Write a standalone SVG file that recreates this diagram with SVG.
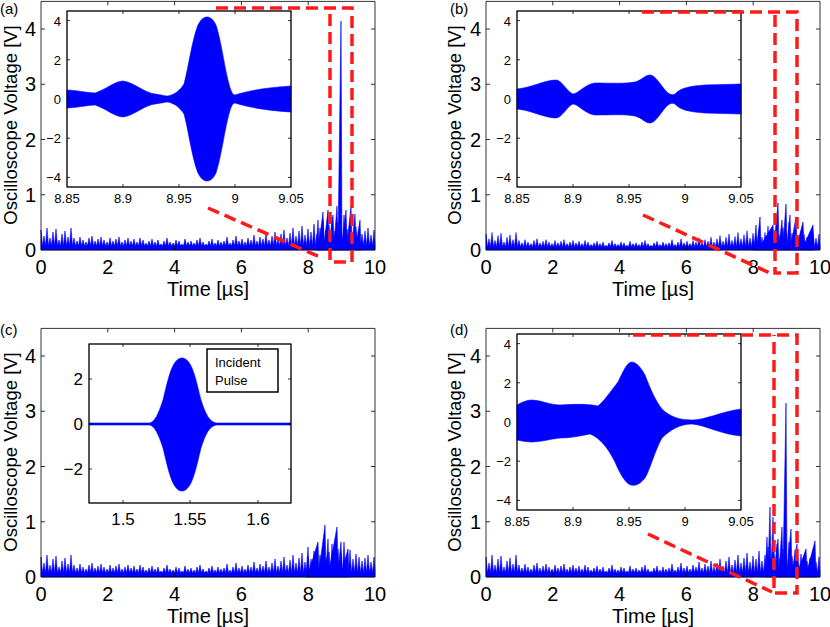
<svg xmlns="http://www.w3.org/2000/svg" xmlns:xlink="http://www.w3.org/1999/xlink" width="830" height="627" viewBox="0 0 830 627">
<style>
text{font-family:"Liberation Sans",Arial,sans-serif;fill:#000}
.tl{font-size:20px}
.yl{font-size:18.5px}
.it{font-size:13px}
.ic{font-size:17px}
.pl{font-size:15px}
.ax{fill:none;stroke:#000;stroke-width:0.8}
.sig{fill:#0000ff;stroke:#0000ff;stroke-width:0.6;stroke-linejoin:round}
.inset{fill:#fff;stroke:#000;stroke-width:0.9}
.red{fill:none;stroke:#ff1a1a;stroke-width:3.5;stroke-dasharray:12 6}
</style>
<defs>
<path id="noise" class="sig" d="M0,0 L0,-20 1.5,-4 3,-14 4.5,-4 6,-22 7.5,-4 9,-12 10.5,-4 12,-18 13.5,-4 15,-21 16.5,-4 18,-10 19.5,-4 21,-16 22.5,-4 24,-19 25.5,-4 27,-13 28.5,-4 30,-22 31.5,-4 33,-12 34.5,-4 36,-9 37.5,-4 39,-13 40.5,-4 42,-10 43.5,-4 45,-8 46.5,-4 48,-12 49.5,-4 51,-14 52.5,-4 54,-9 55.5,-4 57,-11 58.5,-4 60,-13 61.5,-4 63,-10 64.5,-4 66,-8 67.5,-4 69,-12 70.5,-4 72,-9 73.5,-4 75,-11 76.5,-4 78,-13 79.5,-4 81,-8 82.5,-4 84,-10 85.5,-4 87,-12 88.5,-4 90,-9 91.5,-4 93,-11 94.5,-4 96,-8 97.5,-4 99,-12 100.5,-4 102,-10 103.5,-4 105,-7 106.5,-4 108,-9 109.5,-4 111,-11 112.5,-4 114,-8 115.5,-4 117,-10 118.5,-4 120,-6 121.5,-4 123,-9 124.5,-4 126,-12 127.5,-4 129,-8 130.5,-4 132,-7 133.5,-4 135,-10 136.5,-4 138,-9 139.5,-4 141,-6 142.5,-4 144,-11 145.5,-4 147,-8 148.5,-4 150,-9 151.5,-4 153,-7 154.5,-4 156,-10 157.5,-4 159,-12 160.5,-4 162,-8 163.5,-4 165,-6 166.5,-4 168,-9 169.5,-4 171,-11 172.5,-4 174,-7 175.5,-4 177,-10 178.5,-4 180,-8 181.5,-4 183,-9 184.5,-4 186,-13 187.5,-4 189,-7 190.5,-4 192,-10 193.5,-4 195,-14 196.5,-4 198,-9 199.5,-4 201,-11 202.5,-4 204,-8 205.5,-4 207,-12 208.5,-4 210,-10 211.5,-4 213,-15 214.5,-4 216,-9 217.5,-4 219,-13 220.5,-4 222,-11 223.5,-4 225,-16 226.5,-4 228,-10 229.5,-4 231,-14 232.5,-4 234,-18 235.5,-4 237,-11 238.5,-4 240,-16 241.5,-4 243,-20 244.5,-4 246,-12 247.5,-4 249,-17 250.5,-4 252,-22 253.5,-4 255,-14 256.5,-4 258,-19 259.5,-4 261,-24 262.5,-4 264,-15 265.5,-4 267,-21 268.5,-4 270,-18 271.5,-4 273,-26 274.5,-4 276,-16 277.5,-4 279,-22 280.5,-4 282,-30 283.5,-4 285,-20 286.5,-4 288,-25 289.5,-4 291,-33 292.5,-4 294,-19 295.5,-4 297,-28 298.5,-4 300,-24 301.5,-4 303,-35 304.5,-4 306,-21 307.5,-4 309,-27 310.5,-4 312,-18 313.5,-4 315,-23 316.5,-4 318,-20 319.5,-4 321,-16 322.5,-4 324,-19 325.5,-4 327,-22 328.5,-4 330,-15 331.5,-4 333,-20 334,-4 334,0 Z"/>
<path id="axes" class="ax" d="M0,0 H334 V-248.6 H0 Z M66.8,0 v-4 M133.6,0 v-4 M200.4,0 v-4 M267.2,0 v-4 M66.8,-248.6 v4 M133.6,-248.6 v4 M200.4,-248.6 v4 M267.2,-248.6 v4 M0,-55.25 h4 M0,-110.5 h4 M0,-165.75 h4 M0,-221 h4 M334,-55.25 h-4 M334,-110.5 h-4 M334,-165.75 h-4 M334,-221 h-4"/>
<path id="iax" class="ax" d="M56,176 v-3 M112,176 v-3 M168,176 v-3 M56,0 v3 M112,0 v3 M168,0 v3 M0,9.6 h3 M0,48.8 h3 M0,88 h3 M0,127.2 h3 M0,166.4 h3 M224,9.6 h-3 M224,48.8 h-3 M224,88 h-3 M224,127.2 h-3 M224,166.4 h-3"/>
</defs>

<g id="panel-a">
<use xlink:href="#noise" transform="translate(41,250)"/>
<path class="sig" transform="translate(41,250)" d="M275,0 L277,-30 278,-6 282,-38 283,-6 287,-40 288,-6 292,-35 293,-6 296,-44 297,-6 300,-229 301,-6 305,-40 306,-6 310,-44 311,-6 314,-36 315,-6 319,-30 320,0 Z"/>
<use xlink:href="#axes" transform="translate(41,250)"/>
<g class="tl" text-anchor="middle"><text x="41" y="274">0</text><text x="107.8" y="274">2</text><text x="174.6" y="274">4</text><text x="241.4" y="274">6</text><text x="308.2" y="274">8</text><text x="375" y="274">10</text><text x="208" y="296">Time [µs]</text></g>
<g class="tl" text-anchor="end"><text x="36" y="257">0</text><text x="36" y="202">1</text><text x="36" y="146.5">2</text><text x="36" y="91">3</text><text x="36" y="36">4</text></g>
<text class="yl" text-anchor="middle" transform="translate(17,125) rotate(-90)">Oscilloscope Voltage [V]</text>
<text class="pl" x="0" y="14">(a)</text>
<g id="inset-a">
<rect class="inset" x="67" y="11" width="224" height="176"/>
<path class="sig" d="M67,90 C75,90 88,93 95,93 C105,90 115,81 123,81 C133,82 145,93 155,94 C162,95 165,96 168,96 C176,94 180,90 184,84 C188,70 192,40 198,25 C201,19 204,17 207,17 C210,17 213,19 216,25 C221,40 225,70 229,84 C231,92 233,95 235,95 C245,92 260,88 291,86 L291,112 C260,110 245,106 235,103 C233,103 231,106 229,114 C225,128 221,158 216,173 C213,179 210,181 207,181 C204,181 201,179 198,173 C192,158 188,128 184,114 C180,108 176,104 168,102 C165,102 162,103 155,104 C145,105 133,116 123,117 C115,117 105,108 95,105 C88,105 75,108 67,108 Z"/>
<rect class="ax" x="67" y="11" width="224" height="176"/>
<use xlink:href="#iax" transform="translate(67,11)"/>
<g class="it" text-anchor="end"><text x="61" y="25.5">4</text><text x="61" y="64.5">2</text><text x="61" y="103.5">0</text><text x="61" y="143">−2</text><text x="61" y="182">−4</text></g>
<g class="it" text-anchor="middle"><text x="67" y="203">8.85</text><text x="123" y="203">8.9</text><text x="179" y="203">8.95</text><text x="235" y="203">9</text><text x="291" y="203">9.05</text></g>
</g>
<path class="red" d="M216,8 H352 V262 H330 V8 M208,208 L320,257"/>
</g>

<g id="panel-b">
<use xlink:href="#noise" transform="translate(486,250) scale(1,0.8)"/>
<path class="sig" transform="translate(486,250)" d="M268,0 L270,-25 271,-5 274,-33 275,-5 287,-25 288,-5 292,-47 293,-5 296,-30 297,-5 300,-46 301,-5 304,-35 305,-5 310,-33 311,-5 317,-28 318,-5 327,-25 328,0 Z"/>
<use xlink:href="#axes" transform="translate(486,250)"/>
<g class="tl" text-anchor="middle"><text x="486" y="274">0</text><text x="552.8" y="274">2</text><text x="619.6" y="274">4</text><text x="686.4" y="274">6</text><text x="753.2" y="274">8</text><text x="820" y="274">10</text><text x="653" y="296">Time [µs]</text></g>
<g class="tl" text-anchor="end"><text x="481" y="257">0</text><text x="481" y="202">1</text><text x="481" y="146.5">2</text><text x="481" y="91">3</text><text x="481" y="36">4</text></g>
<text class="yl" text-anchor="middle" transform="translate(461,125) rotate(-90)">Oscilloscope Voltage [V]</text>
<text class="pl" x="450" y="14">(b)</text>
<g id="inset-b">
<rect class="inset" x="517" y="11" width="224" height="176"/>
<path class="sig" d="M517,89 C530,88 545,80 556,80 C562,80 568,93 573,94 C578,94 585,84 595,83 C610,83 625,84 635,82 C642,80 645,75 650,75 C656,75 662,88 668,93 C671,95 673,95 675,94 C680,88 690,86 705,85 L741,84 L741,114 L705,113 C690,112 680,110 675,104 C673,103 671,103 668,105 C662,110 656,123 650,123 C645,123 642,118 635,116 C625,114 610,115 595,115 C585,114 578,104 573,104 C568,105 562,118 556,118 C545,118 530,110 517,109 Z"/>
<rect class="ax" x="517" y="11" width="224" height="176"/>
<use xlink:href="#iax" transform="translate(517,11)"/>
<g class="it" text-anchor="end"><text x="511" y="25.5">4</text><text x="511" y="64.5">2</text><text x="511" y="103.5">0</text><text x="511" y="143">−2</text><text x="511" y="182">−4</text></g>
<g class="it" text-anchor="middle"><text x="517" y="203">8.85</text><text x="573" y="203">8.9</text><text x="629" y="203">8.95</text><text x="685" y="203">9</text><text x="741" y="203">9.05</text></g>
</g>
<path class="red" d="M642,12 H797 V273 H775 V12 M643,215 L770,273"/>
</g>

<g id="panel-c">
<use xlink:href="#noise" transform="translate(41,577)"/>
<path class="sig" transform="translate(41,577)" d="M265,0 L267,-30 268,-6 277,-35 278,-6 284,-52 285,-6 287,-38 288,-6 296,-50 297,-6 300,-35 301,-6 307,-28 308,0 Z"/>
<use xlink:href="#axes" transform="translate(41,577)"/>
<g class="tl" text-anchor="middle"><text x="41" y="601">0</text><text x="107.8" y="601">2</text><text x="174.6" y="601">4</text><text x="241.4" y="601">6</text><text x="308.2" y="601">8</text><text x="375" y="601">10</text><text x="208" y="623">Time [µs]</text></g>
<g class="tl" text-anchor="end"><text x="36" y="584">0</text><text x="36" y="529">1</text><text x="36" y="473.5">2</text><text x="36" y="418">3</text><text x="36" y="363">4</text></g>
<text class="yl" text-anchor="middle" transform="translate(17,452) rotate(-90)">Oscilloscope Voltage [V]</text>
<text class="pl" x="0" y="335">(c)</text>
<g id="inset-c">
<rect class="inset" x="89" y="344" width="202" height="159"/>
<path class="sig" d="M89,423 L150,423 C155,421 158,415 163,400 C168,380 172,358 182,358 C192,358 196,380 201,400 C206,415 209,421 216,423 L291,423 L291,425 L216,425 C209,427 206,433 201,448 C196,468 192,491 182,491 C172,491 168,468 163,448 C158,433 155,427 150,425 L89,425 Z"/>
<rect class="ax" x="89" y="344" width="202" height="159"/>
<path class="ax" d="M123,503 v-3 M190,503 v-3 M258,503 v-3 M123,344 v3 M190,344 v3 M258,344 v3 M89,379 h3 M89,424 h3 M89,469 h3 M291,379 h-3 M291,424 h-3 M291,469 h-3"/>
<g class="ic" text-anchor="end"><text x="83" y="385">2</text><text x="83" y="430">0</text><text x="83" y="475">−2</text></g>
<g class="ic" text-anchor="middle"><text x="123" y="525">1.5</text><text x="190" y="525">1.55</text><text x="258" y="525">1.6</text></g>
<rect x="207" y="349" width="71" height="43" fill="#fff" stroke="#000" stroke-width="1.5"/>
<text class="it" x="215" y="367">Incident</text>
<text class="it" x="215" y="385">Pulse</text>
</g>
</g>

<g id="panel-d">
<use xlink:href="#noise" transform="translate(486,577)"/>
<path class="sig" transform="translate(486,577)" d="M279,0 L281,-40 282,-6 284,-70 285,-6 287,-60 288,-6 292,-38 293,-6 296,-50 297,-6 300,-174 301,-6 305,-48 306,-6 311,-33 312,-6 320,-28 321,-6 329,-36 330,0 Z"/>
<use xlink:href="#axes" transform="translate(486,577)"/>
<g class="tl" text-anchor="middle"><text x="486" y="601">0</text><text x="552.8" y="601">2</text><text x="619.6" y="601">4</text><text x="686.4" y="601">6</text><text x="753.2" y="601">8</text><text x="820" y="601">10</text><text x="653" y="623">Time [µs]</text></g>
<g class="tl" text-anchor="end"><text x="481" y="584">0</text><text x="481" y="529">1</text><text x="481" y="473.5">2</text><text x="481" y="418">3</text><text x="481" y="363">4</text></g>
<text class="yl" text-anchor="middle" transform="translate(461,452) rotate(-90)">Oscilloscope Voltage [V]</text>
<text class="pl" x="450" y="335">(d)</text>
<g id="inset-d">
<rect class="inset" x="517" y="334" width="224" height="176"/>
<path class="sig" d="M517,405 C522,402 527,400 532,400 C540,400 550,405 560,405 C575,404 590,404 598,406 C605,400 610,392 618,382 C623,372 626,364 631,362 C636,362 640,366 645,375 C650,388 655,400 662,409 C670,417 680,420 692,420 C705,420 720,412 741,409 L741,436 C720,434 705,425 692,424 C680,424 670,430 662,438 C655,450 650,470 645,478 C640,484 636,486 631,485 C626,484 620,474 615,462 C608,448 600,438 590,434 C580,436 570,438 560,438 C550,439 540,442 532,442 C527,442 522,441 517,440 Z"/>
<rect class="ax" x="517" y="334" width="224" height="176"/>
<use xlink:href="#iax" transform="translate(517,334)"/>
<g class="it" text-anchor="end"><text x="511" y="348.5">4</text><text x="511" y="387.5">2</text><text x="511" y="426.5">0</text><text x="511" y="466">−2</text><text x="511" y="505">−4</text></g>
<g class="it" text-anchor="middle"><text x="517" y="526">8.85</text><text x="573" y="526">8.9</text><text x="629" y="526">8.95</text><text x="685" y="526">9</text><text x="741" y="526">9.05</text></g>
</g>
<path class="red" d="M633,335 H797 V593 H774 V335 M648,534 L772,592"/>
</g>
</svg>
